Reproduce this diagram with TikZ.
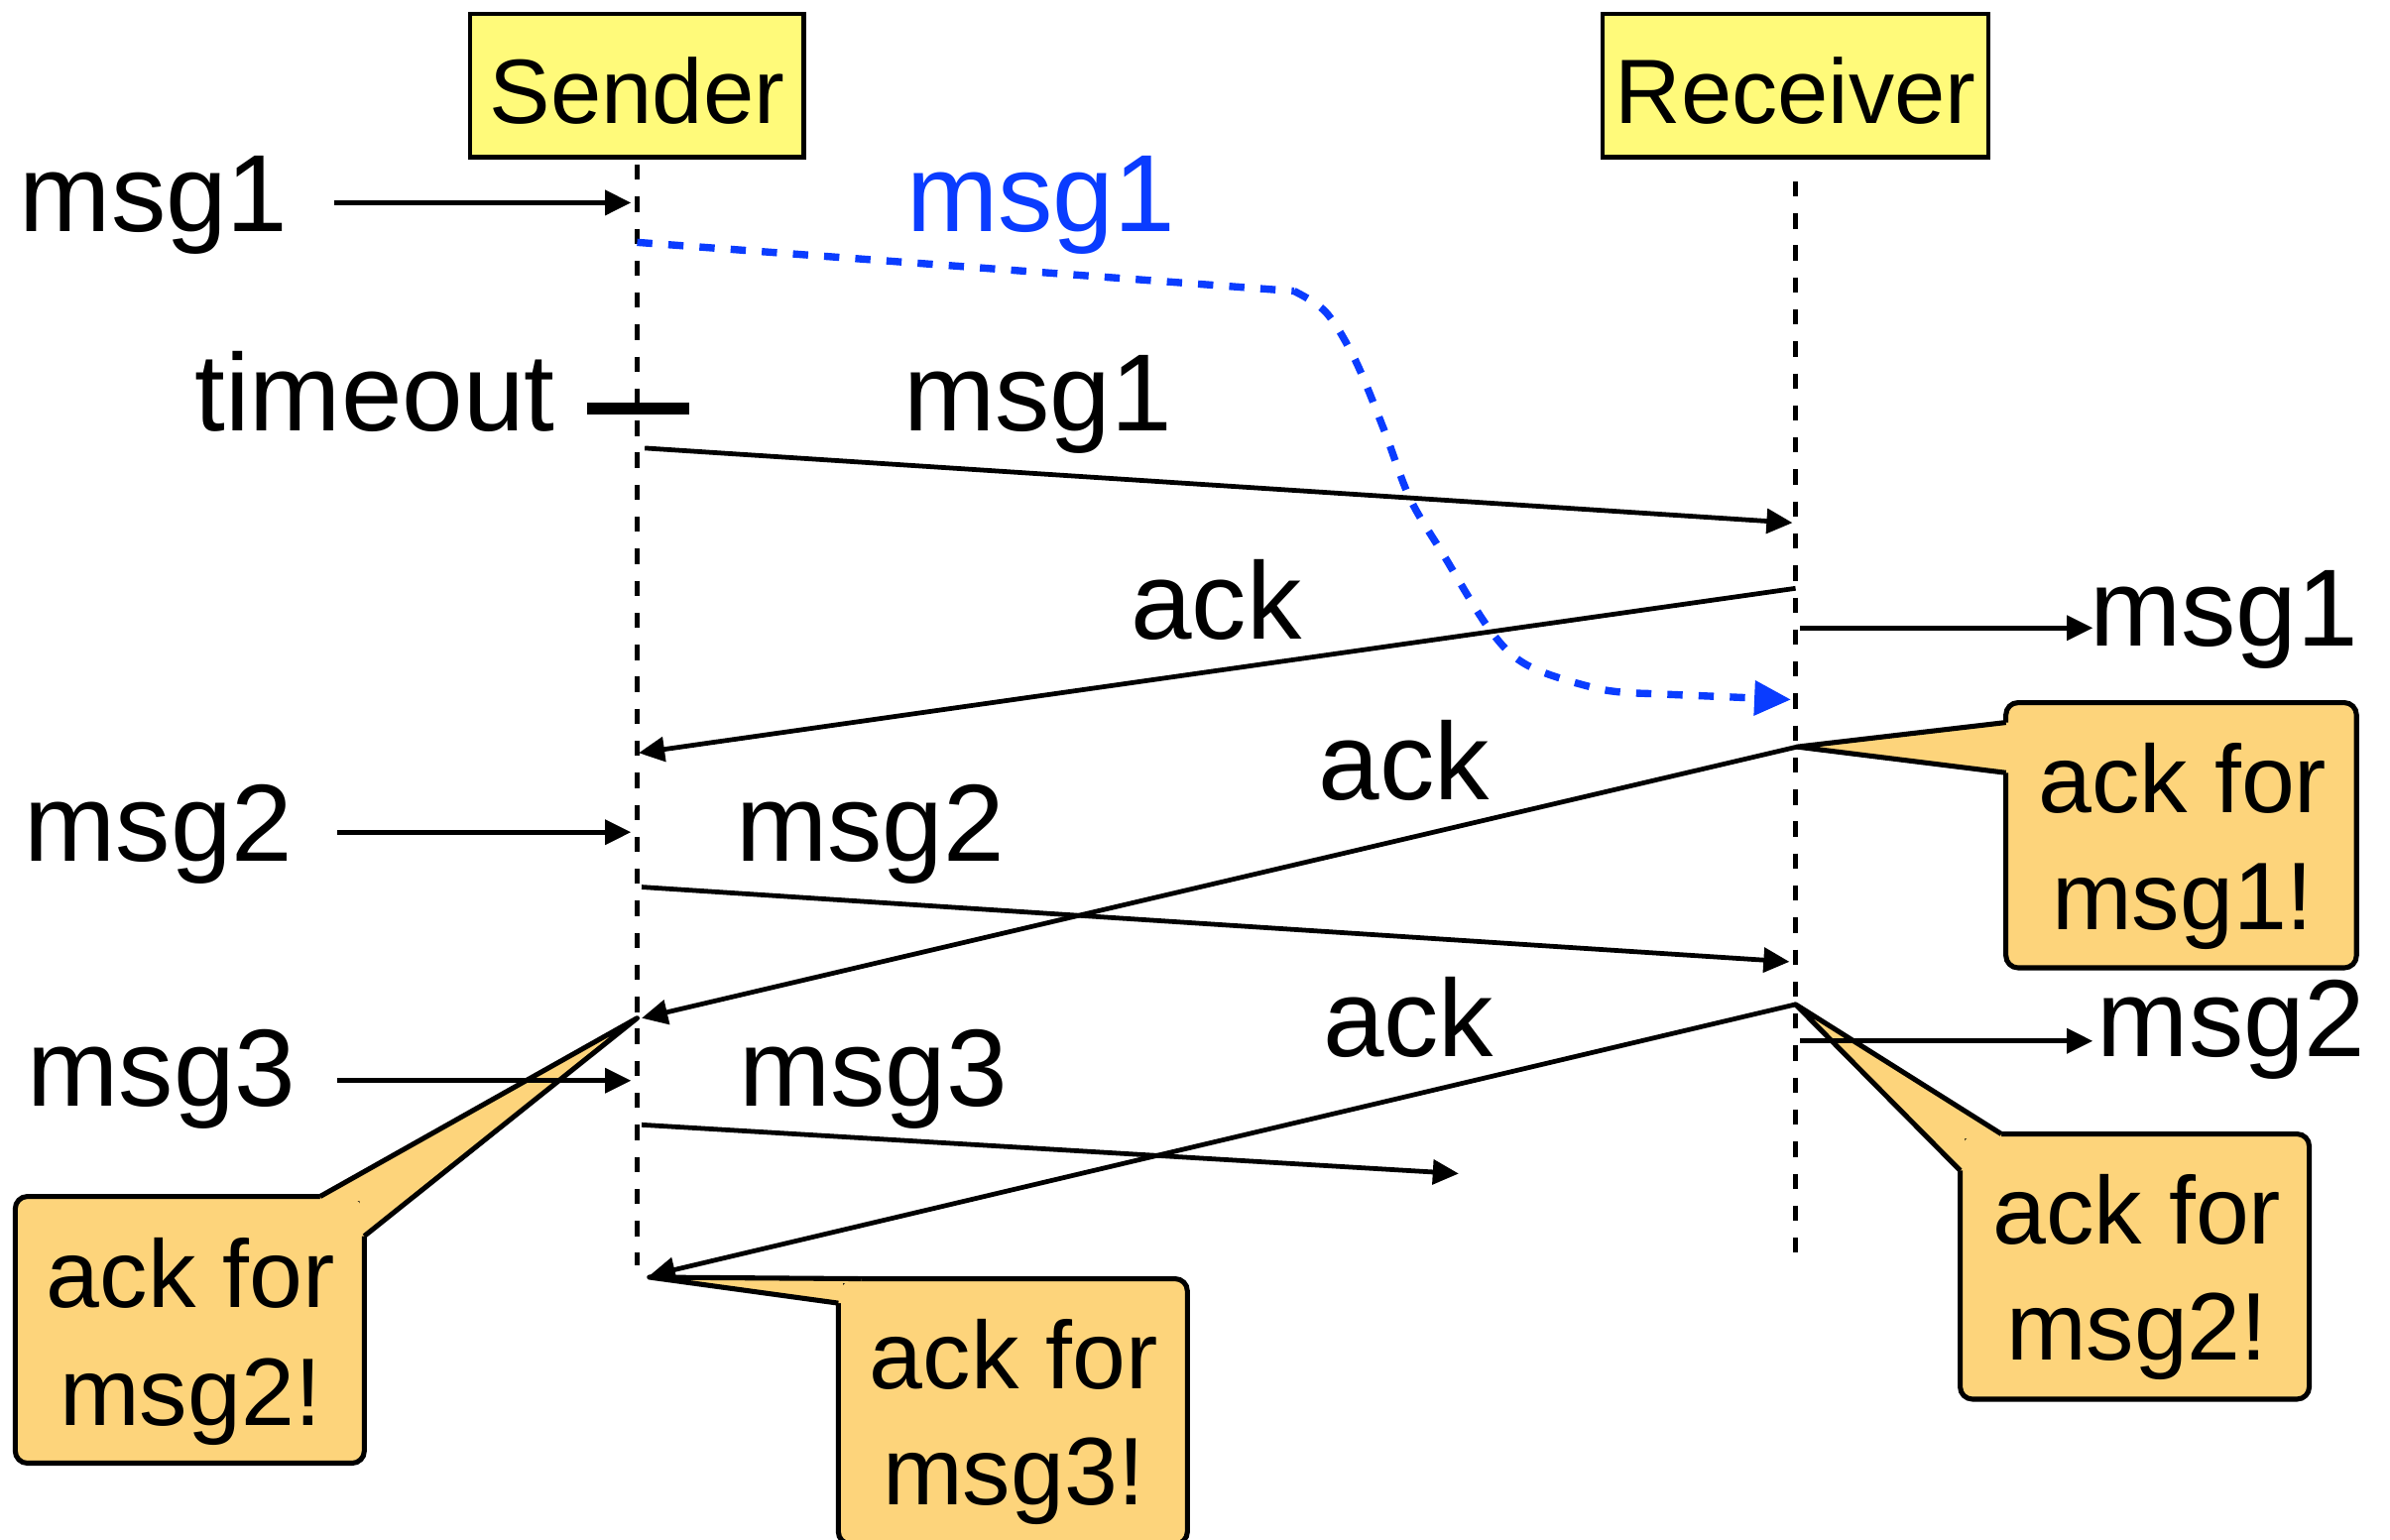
\documentclass[tikz,border=0pt]{standalone}
\usepackage{fontspec}
\setmainfont{Liberation Sans}
\usetikzlibrary{arrows.meta}
\definecolor{hdrfill}{HTML}{FFFA7A}
\definecolor{callfill}{HTML}{FDD47B}
\definecolor{msgblue}{HTML}{0A3CFF}
\begin{document}
\begin{tikzpicture}[x=1pt,y=-1pt,
  hdrbox/.style={draw=black, line width=3pt, fill=hdrfill, minimum height=94pt, inner sep=0pt,
    text height=50pt, text depth=0pt, font=\fontsize{60}{72}\selectfont},
  lbl/.style={anchor=base, inner sep=0pt, font=\fontsize{72}{86}\selectfont},
  ctxt/.style={anchor=base, inner sep=0pt, font=\fontsize{63}{75}\selectfont},
  lifeline/.style={line width=3pt, dash pattern=on 10pt off 11pt},
  msgarrow/.style={line width=3.1pt, -{Triangle[length=17pt,width=16pt]}},
  bluedash/.style={line width=4.8pt, draw=msgblue, dash pattern=on 10pt off 10.5pt,
    -{Triangle[length=24pt,width=22pt,fill=msgblue]}},
  callbox/.style={draw=black, line width=3.3pt, fill=callfill, rounded corners=8pt, inner sep=0pt},
  wedgeline/.style={draw=black, line width=3.3pt, line join=round},
]
\useasboundingbox (0,0) rectangle (1568,1010);
\fill[white] (0,0) rectangle (1568,1010);

% ---------- coordinates ----------
\coordinate (sTop) at (418,108);  \coordinate (sBot) at (418,830);
\coordinate (rTop) at (1178,108); \coordinate (rBot) at (1178,822);
\coordinate (in1) at (219,133);   \coordinate (s1) at (414,133);
\coordinate (tk1) at (385,268);   \coordinate (tk2) at (452,268);
\coordinate (bS) at (418,159);    \coordinate (bE) at (1175,459);
\coordinate (m1a) at (423,294);   \coordinate (m1b) at (1176,343);
\coordinate (k1a) at (1178,386);  \coordinate (k1b) at (419,494);
\coordinate (d1a) at (1181,412);  \coordinate (d1b) at (1373,412);
\coordinate (k2a) at (1179,490);  \coordinate (k2b) at (421,668);
\coordinate (in2) at (221,546);   \coordinate (s2) at (414,546);
\coordinate (m2a) at (421,582);   \coordinate (m2b) at (1174,631);
\coordinate (d2a) at (1181,683);  \coordinate (d2b) at (1373,683);
\coordinate (k3a) at (1178,659);  \coordinate (k3b) at (426,837);
\coordinate (in3) at (221,709);   \coordinate (s3) at (414,709);
\coordinate (m3a) at (421,738);   \coordinate (m3b) at (957,770);

% ---------- callouts ----------
% c1: ack for msg1!
\node[callbox, minimum width=230pt, minimum height=174pt] (c1) at (1431,548) {};
\coordinate (c1a) at (1316,474); \coordinate (c1b) at (1316,507);
\fill[callfill] (k2a) -- (c1a) -- (1319,474) -- (1319,507) -- (c1b) -- cycle;
\draw[wedgeline] (c1a) -- (k2a) -- (c1b);
\node[ctxt] (c1t1) at (1432,533) {ack for};
\node[ctxt] (c1t2) at (1432,610) {msg1!};

% c2: ack for msg2! (right)
\node[callbox, minimum width=229pt, minimum height=174pt] (c2) at (1400.5,831) {};
\coordinate (c2a) at (1313,744); \coordinate (c2b) at (1286,768);
\fill[callfill] (k3a) -- (c2a) -- (1313,747) -- (1289,747) -- (1289,768) -- (c2b) -- cycle;
\draw[wedgeline] (c2a) -- (k3a) -- (c2b);
\node[ctxt] (c2t1) at (1402,816) {ack for};
\node[ctxt] (c2t2) at (1402,892) {msg2!};

% c3: ack for msg2! (left)
\coordinate (c3tip) at (418,668);
\node[callbox, minimum width=229pt, minimum height=175pt] (c3) at (124.5,872.5) {};
\coordinate (c3a) at (210,785); \coordinate (c3b) at (239,811);
\fill[callfill] (c3tip) -- (c3a) -- (210,788) -- (236,788) -- (236,811) -- (c3b) -- cycle;
\draw[wedgeline] (c3a) -- (c3tip) -- (c3b);
\node[ctxt] (c3t1) at (125,858) {ack for};
\node[ctxt] (c3t2) at (125,935) {msg2!};

% c4: ack for msg3!
\coordinate (c4tip) at (426,838);
\node[callbox, minimum width=229pt, minimum height=174pt] (c4) at (664.5,926) {};
\coordinate (c4a) at (565,839); \coordinate (c4b) at (550,855);
\fill[callfill] (c4tip) -- (c4a) -- (565,842) -- (553,842) -- (553,855) -- (c4b) -- cycle;
\draw[wedgeline] (c4a) -- (c4tip) -- (c4b);
\node[ctxt] (c4t1) at (665,911) {ack for};
\node[ctxt] (c4t2) at (665,987) {msg3!};

% ---------- headers ----------
\node[hdrbox, minimum width=219pt] (sender) at (418,56) {Sender};
\node[hdrbox, minimum width=253pt] (receiver) at (1178,56) {Receiver};

% ---------- lifelines ----------
\draw[lifeline] (sTop) -- (sBot);
\draw[lifeline, dash phase=10pt] (rTop) -- (rBot);

% ---------- timeout tick ----------
\draw[line width=7.5pt] (tk1) -- (tk2);

% ---------- lost msg1 (blue) ----------
\draw[bluedash] (bS) -- (849,191)
  plot[smooth, tension=0.55] coordinates {(849,191) (870,205) (889,236) (908,282) (925,327) (947,364) (978,414) (1003,437) (1049,452) (1080,455)}
  -- (bE);

% ---------- arrows ----------
\draw[msgarrow] (in1) -- (s1);
\draw[msgarrow] (m1a) -- (m1b);
\draw[msgarrow] (k1a) -- (k1b);
\draw[msgarrow] (d1a) -- (d1b);
\draw[msgarrow] (k2a) -- (k2b);
\draw[msgarrow] (in2) -- (s2);
\draw[msgarrow] (m2a) -- (m2b);
\draw[msgarrow] (d2a) -- (d2b);
\draw[msgarrow] (k3a) -- (k3b);
\draw[msgarrow] (in3) -- (s3);
\draw[msgarrow] (m3a) -- (m3b);

% ---------- labels ----------
\node[lbl] (l1) at (101,152) {msg1};
\node[lbl, text=msgblue] (lb) at (683,152) {msg1};
\node[lbl] (lt) at (246,283) {timeout};
\node[lbl] (lm1) at (681,283) {msg1};
\node[lbl] (la1) at (798,419) {ack};
\node[lbl] (ld1) at (1459,424) {msg1};
\node[lbl] (la2) at (921,525) {ack};
\node[lbl] (l2) at (104,565) {msg2};
\node[lbl] (lm2) at (571,565) {msg2};
\node[lbl] (la3) at (924,693) {ack};
\node[lbl] (ld2) at (1464,693) {msg2};
\node[lbl] (l3) at (106,726) {msg3};
\node[lbl] (lm3) at (573,726) {msg3};
\end{tikzpicture}
\end{document}
